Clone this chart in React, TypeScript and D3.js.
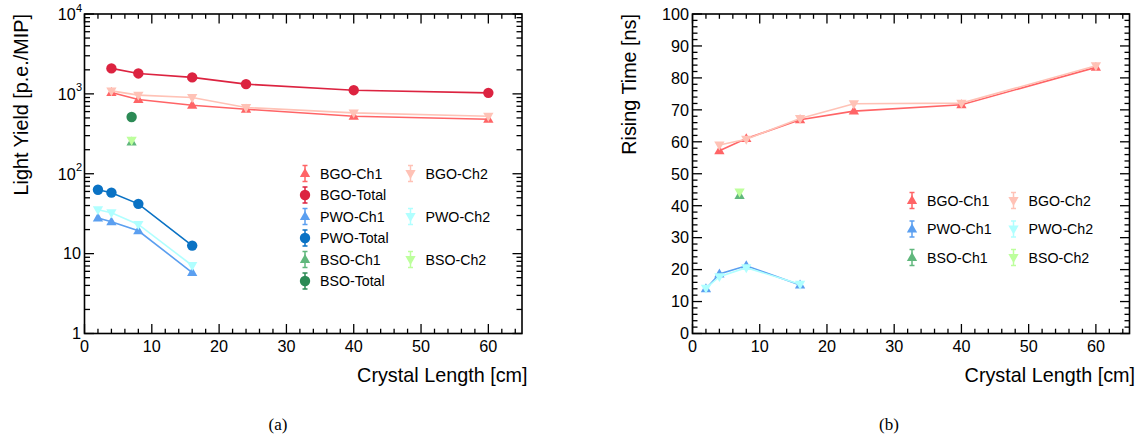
import React from "react";
import * as d3 from "d3";

// Crystal lengths [cm] for each crystal type
const lengthsBGO = [4, 8, 16, 24, 40, 60];
const lengthsPWO = [2, 4, 8, 16];
const lengthsBSO = [7];

// Light yield [p.e./MIP]
const lyBGOCh1 = [1042, 851, 721, 643, 525, 482];
const lyBGOTotal = [2084, 1803, 1607, 1324, 1112, 1030];
const lyBGOCh2 = [1091, 964, 902, 675, 578, 525];
const lyPWOCh1 = [28, 25, 19.3, 5.8];
const lyPWOTotal = [63, 58, 42, 12.6];
const lyPWOCh2 = [35.5, 32.5, 23.2, 7.1];
const lyBSOCh1 = [250];
const lyBSOTotal = [514];
const lyBSOCh2 = [262];

// Rising time [ns]
const rtBGOCh1 = [57.2, 61.0, 66.9, 69.6, 71.6, 83.3];
const rtBGOCh2 = [59.0, 60.8, 67.3, 71.9, 72.1, 83.8];
const rtPWOCh1 = [14.0, 18.6, 21.2, 15.2];
const rtPWOCh2 = [14.2, 17.8, 20.6, 15.4];
const rtBSOCh1 = [43.2];
const rtBSOCh2 = [44.3];

const xTicks = [0, 10, 20, 30, 40, 50, 60];
const logDecades = [1, 10, 100, 1000, 10000];
const linTicks = [0, 10, 20, 30, 40, 50, 60, 70, 80, 90, 100];

const colors = {
  bgoCh1: "#ff6466",
  bgoTotal: "#dc2340",
  bgoCh2: "#ffc2b6",
  pwoCh1: "#5b9ff0",
  pwoTotal: "#0a72c4",
  pwoCh2: "#b0ffff",
  bsoCh1: "#60b77c",
  bsoTotal: "#2c8a55",
  bsoCh2: "#bdff9c",
};

type Shape = "up" | "down" | "circle";
type Series = { name: string; xs: number[]; ys: number[]; color: string; shape: Shape };

const lySeries: Series[] = [
  { name: "BGO-Ch1", xs: lengthsBGO, ys: lyBGOCh1, color: colors.bgoCh1, shape: "up" },
  { name: "BGO-Ch2", xs: lengthsBGO, ys: lyBGOCh2, color: colors.bgoCh2, shape: "down" },
  { name: "BGO-Total", xs: lengthsBGO, ys: lyBGOTotal, color: colors.bgoTotal, shape: "circle" },
  { name: "PWO-Ch1", xs: lengthsPWO, ys: lyPWOCh1, color: colors.pwoCh1, shape: "up" },
  { name: "PWO-Ch2", xs: lengthsPWO, ys: lyPWOCh2, color: colors.pwoCh2, shape: "down" },
  { name: "PWO-Total", xs: lengthsPWO, ys: lyPWOTotal, color: colors.pwoTotal, shape: "circle" },
  { name: "BSO-Ch1", xs: lengthsBSO, ys: lyBSOCh1, color: colors.bsoCh1, shape: "up" },
  { name: "BSO-Ch2", xs: lengthsBSO, ys: lyBSOCh2, color: colors.bsoCh2, shape: "down" },
  { name: "BSO-Total", xs: lengthsBSO, ys: lyBSOTotal, color: colors.bsoTotal, shape: "circle" },
];

const rtSeries: Series[] = [
  { name: "BGO-Ch1", xs: lengthsBGO, ys: rtBGOCh1, color: colors.bgoCh1, shape: "up" },
  { name: "BGO-Ch2", xs: lengthsBGO, ys: rtBGOCh2, color: colors.bgoCh2, shape: "down" },
  { name: "PWO-Ch1", xs: lengthsPWO, ys: rtPWOCh1, color: colors.pwoCh1, shape: "up" },
  { name: "PWO-Ch2", xs: lengthsPWO, ys: rtPWOCh2, color: colors.pwoCh2, shape: "down" },
  { name: "BSO-Ch1", xs: lengthsBSO, ys: rtBSOCh1, color: colors.bsoCh1, shape: "up" },
  { name: "BSO-Ch2", xs: lengthsBSO, ys: rtBSOCh2, color: colors.bsoCh2, shape: "down" },
];

// Legend layout: [name, column, row]
const lyLegend: [string, number, number][] = [
  ["BGO-Ch1", 0, 0], ["BGO-Total", 0, 1], ["PWO-Ch1", 0, 2], ["PWO-Total", 0, 3],
  ["BSO-Ch1", 0, 4], ["BSO-Total", 0, 5], ["BGO-Ch2", 1, 0], ["PWO-Ch2", 1, 2], ["BSO-Ch2", 1, 4],
];
const rtLegend: [string, number, number][] = [
  ["BGO-Ch1", 0, 0], ["PWO-Ch1", 0, 1], ["BSO-Ch1", 0, 2],
  ["BGO-Ch2", 1, 0], ["PWO-Ch2", 1, 1], ["BSO-Ch2", 1, 2],
];

const FONT = "'Liberation Sans', Arial, Helvetica, sans-serif";
const TOP = 14;
const BOTTOM = 333.5;

const triPath = d3.symbol().type(d3.symbolTriangle).size(46)() as string;

function Marker({ x, y, shape, color }: { x: number; y: number; shape: Shape; color: string }) {
  if (shape === "circle") return <circle cx={x} cy={y} r={5.2} fill={color} />;
  const rot = shape === "down" ? 180 : 0;
  return <path d={triPath} transform={`translate(${x},${y + (shape === "down" ? -0.5 : 0.5)}) rotate(${rot})`} fill={color} />;
}

function LegendEntry({ x, y, s }: { x: number; y: number; s: Series }) {
  return (
    <g>
      <line x1={x} x2={x} y1={y - 8} y2={y + 8} stroke={s.color} strokeWidth={1.5} />
      <line x1={x - 2.5} x2={x + 2.5} y1={y - 8} y2={y - 8} stroke={s.color} strokeWidth={1.5} />
      <line x1={x - 2.5} x2={x + 2.5} y1={y + 8} y2={y + 8} stroke={s.color} strokeWidth={1.5} />
      <Marker x={x} y={y} shape={s.shape} color={s.color} />
      <text x={x + 15} y={y} dy="0.36em" fontSize={14.2} fontFamily={FONT} fill="#000">
        {s.name}
      </text>
    </g>
  );
}

function Frame({ x0, x1, xScale }: { x0: number; x1: number; xScale: d3.ScaleLinear<number, number> }) {
  const minor = d3.range(0, 65.01, 2).filter((v) => v % 10 !== 0);
  return (
    <g stroke="#000">
      {xTicks.map((t) => (
        <g key={`M${t}`}>
          <line x1={xScale(t)} x2={xScale(t)} y1={BOTTOM} y2={BOTTOM - 9.5} strokeWidth={1.3} />
          <line x1={xScale(t)} x2={xScale(t)} y1={TOP} y2={TOP + 9.5} strokeWidth={1.3} />
        </g>
      ))}
      {minor.map((t) => (
        <g key={`m${t}`}>
          <line x1={xScale(t)} x2={xScale(t)} y1={BOTTOM} y2={BOTTOM - 4.8} strokeWidth={1.3} />
          <line x1={xScale(t)} x2={xScale(t)} y1={TOP} y2={TOP + 4.8} strokeWidth={1.3} />
        </g>
      ))}
      <rect x={x0} y={TOP} width={x1 - x0} height={BOTTOM - TOP} fill="none" strokeWidth={1.6} />
    </g>
  );
}

function XLabels({ xScale, x1 }: { xScale: d3.ScaleLinear<number, number>; x1: number }) {
  return (
    <g fontFamily={FONT} fill="#000">
      {xTicks.map((t) => (
        <text key={t} x={xScale(t)} y={351.5} textAnchor="middle" fontSize={16.2}>
          {t}
        </text>
      ))}
      <text x={x1 + 5.5} y={381.5} textAnchor="end" fontSize={19.8}>
        Crystal Length [cm]
      </text>
    </g>
  );
}

function Lines({ series, x, y }: { series: Series[]; x: (v: number) => number; y: (v: number) => number }) {
  const line = d3.line<[number, number]>().x((d) => x(d[0])).y((d) => y(d[1]));
  return (
    <g>
      {series.map((s) => (
        <g key={s.name}>
          {s.xs.length > 1 ? (
            <path d={line(s.xs.map((v, i) => [v, s.ys[i]])) as string} fill="none" stroke={s.color} strokeWidth={1.6} />
          ) : null}
          {s.xs.map((v, i) => (
            <Marker key={i} x={x(v)} y={y(s.ys[i])} shape={s.shape} color={s.color} />
          ))}
        </g>
      ))}
    </g>
  );
}

function LightYieldPanel() {
  const x0 = 84.5, x1 = 522;
  const x = d3.scaleLinear().domain([0, 65]).range([x0, x1]);
  const y = d3.scaleLog().domain([1, 10000]).range([BOTTOM, TOP]);
  const minorY: number[] = [];
  [1, 10, 100, 1000].forEach((d) => {
    for (let k = 2; k <= 9; k++) minorY.push(d * k);
  });
  const find = (n: string) => lySeries.find((s) => s.name === n) as Series;
  return (
    <g>
      <g stroke="#000">
        {logDecades.map((t) => (
          <g key={`M${t}`}>
            <line x1={x0} x2={x0 + 9.5} y1={y(t)} y2={y(t)} strokeWidth={1.3} />
            <line x1={x1} x2={x1 - 9.5} y1={y(t)} y2={y(t)} strokeWidth={1.3} />
          </g>
        ))}
        {minorY.map((t) => (
          <g key={`m${t}`}>
            <line x1={x0} x2={x0 + 5.5} y1={y(t)} y2={y(t)} strokeWidth={1.3} />
            <line x1={x1} x2={x1 - 5.5} y1={y(t)} y2={y(t)} strokeWidth={1.3} />
          </g>
        ))}
      </g>
      <Frame x0={x0} x1={x1} xScale={x} />
      <g fontFamily={FONT} fill="#000" fontSize={16.2}>
        {logDecades.map((t) => {
          const exp = Math.round(Math.log10(t));
          return exp < 2 ? (
            <text key={t} x={x0 - 3.5} y={y(t)} dy="0.36em" textAnchor="end">
              {t}
            </text>
          ) : (
            <text key={t} x={x0 - 2.5} y={y(t)} dy="0.36em" textAnchor="end">
              10
              <tspan fontSize={11} dy="-0.75em">{exp}</tspan>
            </text>
          );
        })}
        <text transform={`translate(27.5,${TOP}) rotate(-90)`} textAnchor="end" fontSize={19.8}>
          Light Yield [p.e./MIP]
        </text>
      </g>
      <XLabels xScale={x} x1={x1} />
      <Lines series={lySeries} x={x} y={y} />
      {lyLegend.map(([n, c, r]) => (
        <LegendEntry key={n} x={c === 0 ? 305 : 410.5} y={173.5 + r * 21.5} s={find(n)} />
      ))}
      <text x={278} y={430} textAnchor="middle" fontFamily="'Liberation Serif', 'Times New Roman', serif" fontSize={17}>
        (a)
      </text>
    </g>
  );
}

function RisingTimePanel() {
  const x0 = 692.5, x1 = 1129.5;
  const x = d3.scaleLinear().domain([0, 65]).range([x0, x1]);
  const y = d3.scaleLinear().domain([0, 100]).range([BOTTOM, TOP]);
  const minorY = d3.range(0, 100.01, 2).filter((v) => v % 10 !== 0);
  const find = (n: string) => rtSeries.find((s) => s.name === n) as Series;
  return (
    <g>
      <g stroke="#000">
        {linTicks.map((t) => (
          <g key={`M${t}`}>
            <line x1={x0} x2={x0 + 9.5} y1={y(t)} y2={y(t)} strokeWidth={1.3} />
            <line x1={x1} x2={x1 - 9.5} y1={y(t)} y2={y(t)} strokeWidth={1.3} />
          </g>
        ))}
        {minorY.map((t) => (
          <g key={`m${t}`}>
            <line x1={x0} x2={x0 + 5} y1={y(t)} y2={y(t)} strokeWidth={1.3} />
            <line x1={x1} x2={x1 - 5} y1={y(t)} y2={y(t)} strokeWidth={1.3} />
          </g>
        ))}
      </g>
      <Frame x0={x0} x1={x1} xScale={x} />
      <g fontFamily={FONT} fill="#000" fontSize={16.2}>
        {linTicks.map((t) => (
          <text key={t} x={x0 - 3.5} y={y(t)} dy="0.36em" textAnchor="end">
            {t}
          </text>
        ))}
        <text transform={`translate(636,${TOP}) rotate(-90)`} textAnchor="end" fontSize={19.8}>
          Rising Time [ns]
        </text>
      </g>
      <XLabels xScale={x} x1={x1} />
      <Lines series={rtSeries} x={x} y={y} />
      {rtLegend.map(([n, c, r]) => (
        <LegendEntry key={n} x={c === 0 ? 912 : 1013.5} y={200.5 + r * 28.5} s={find(n)} />
      ))}
      <text x={889} y={430} textAnchor="middle" fontFamily="'Liberation Serif', 'Times New Roman', serif" fontSize={17}>
        (b)
      </text>
    </g>
  );
}

export default function App() {
  return (
    <svg
      width={1142}
      height={434}
      viewBox="0 0 1142 434"
      style={{ position: "absolute", left: 0, top: 0, background: "#fff" }}
    >
      <rect width={1142} height={434} fill="#fff" />
      <LightYieldPanel />
      <RisingTimePanel />
    </svg>
  );
}
